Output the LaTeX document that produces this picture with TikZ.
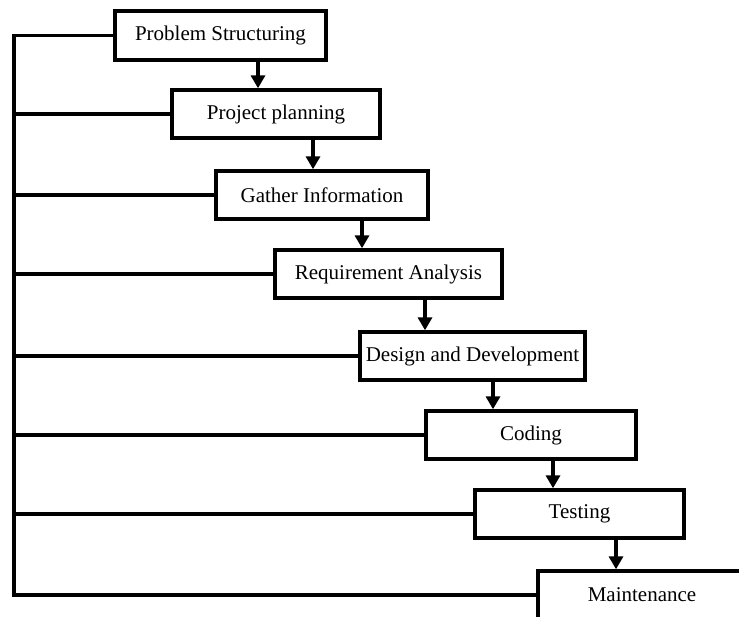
\documentclass[tikz,border=0pt]{standalone}
\usepackage{fontspec}
\setmainfont{Liberation Serif}
\usetikzlibrary{arrows.meta}
\begin{document}
\begin{tikzpicture}[x=1pt, y=-1pt,
  stage/.style={draw, line width=3.4pt, fill=white, inner sep=0pt,
    minimum height=48pt, font=\fontsize{21}{25}\selectfont},
  link/.style={line width=3.4pt},
  flow/.style={line width=3.4pt, -{Triangle[length=13pt, width=14pt]}}]
  \clip (0,0) rectangle (739,616);
  \fill[white] (0,0) rectangle (739,616);

  % process stages
  \node[stage, minimum width=211pt, minimum height=49pt] (ps) at (220.5,35.5) {Problem Structuring};
  \node[stage, minimum width=208pt] (pp) at (276,114) {Project planning};
  \node[stage, minimum width=212pt] (gi) at (322,195) {Gather Information};
  \node[stage, minimum width=227pt] (ra) at (388.5,274) {Requirement Analysis};
  \node[stage, minimum width=225pt] (dd) at (472.5,356) {Design and Development};
  \node[stage, minimum width=210pt] (cd) at (531,435) {Coding};
  \node[stage, minimum width=209pt] (ts) at (579.5,514) {Testing};
  \node[stage, minimum width=208pt] (mt) at (642,595) {Maintenance};

  % forward flow between stages
  \draw[flow] ([xshift=37.5pt]ps.south) -- ([xshift=37.5pt]ps.south |- pp.north);
  \draw[flow] ([xshift=37pt]pp.south) -- ([xshift=37pt]pp.south |- gi.north);
  \draw[flow] ([xshift=40pt]gi.south) -- ([xshift=40pt]gi.south |- ra.north);
  \draw[flow] ([xshift=36.5pt]ra.south) -- ([xshift=36.5pt]ra.south |- dd.north);
  \draw[flow] ([xshift=20.5pt]dd.south) -- ([xshift=20.5pt]dd.south |- cd.north);
  \draw[flow] ([xshift=22pt]cd.south) -- ([xshift=22pt]cd.south |- ts.north);
  \draw[flow] ([xshift=36.5pt]ts.south) -- ([xshift=36.5pt]ts.south |- mt.north);

  % feedback bus on the left
  \coordinate (bus) at (14,0);
  \draw[link, line cap=rect] (ps.west) -- (ps.west -| bus) -- (mt.west -| bus) -- (mt.west);
  \foreach \s in {pp,gi,ra,dd,cd,ts}
    \draw[link] (\s.west) -- (\s.west -| bus);
\end{tikzpicture}
\end{document}
